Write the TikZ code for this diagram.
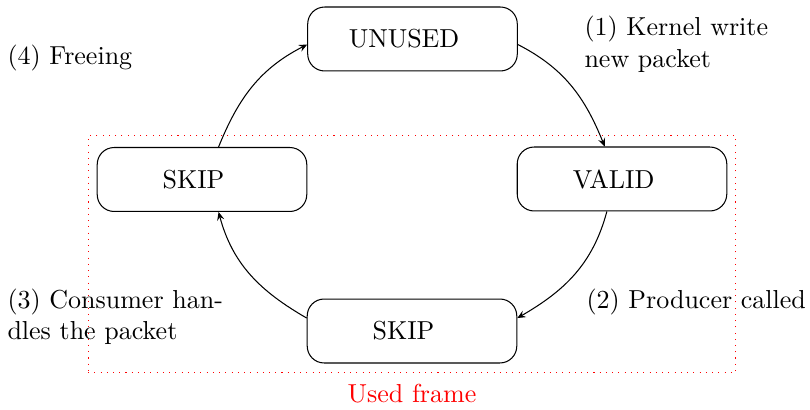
\documentclass[tikz,border=0pt]{standalone}
\usetikzlibrary{arrows.meta}
\begin{document}
\begin{tikzpicture}[x=0.38462pt, y=0.38462pt,
  state/.style={draw, rounded corners=6.5pt, minimum width=80.6pt,
    minimum height=24.6pt, inner sep=0pt,
    execute at end node={\hspace*{6.5pt}}},
  flow/.style={-{Stealth[length=3.2pt,width=2.8pt,inset=1.2pt]}},
  note/.style={inner sep=0pt, anchor=base west, text width=3cm, align=left},
  frame/.style={draw=red, dotted, inner sep=0pt}
]
\useasboundingbox (0,0) rectangle (810,-410);

% dotted frame around the used states
\node[frame, minimum width=249.2pt, minimum height=90.8pt] (frame) at (412,-254) {};
\node[text=red, anchor=base, inner sep=0pt] (framelabel) at (412,-402) {Used frame};

% states
\node[state] (unused) at (412.5,-39) {UNUSED};
\node[state] (valid) at (622,-179) {VALID};
\node[state] (skipl) at (202,-179.5) {SKIP};
\node[state] (skipb) at (412,-331) {SKIP};

% transitions
\draw[flow] (unused.-3.3) to[out=-27, in=112] (valid.118);
\draw[flow] (valid.245) to[out=255, in=30] (skipb.7);
\draw[flow] (skipb.173.5) to[out=150, in=285] (skipl.-63.5);
\draw[flow] (skipl.63) to[out=68, in=207] (unused.183.3);

% step descriptions
\node[note] (n1) at (584,-36) {(1) Kernel write new packet};
\node[note] (n2) at (586,-308) {(2) Producer called};
\node[note] (n3) at (7,-308) {(3) Consumer handles the packet};
\node[note] (n4) at (7,-65) {(4) Freeing};
\end{tikzpicture}
\end{document}
